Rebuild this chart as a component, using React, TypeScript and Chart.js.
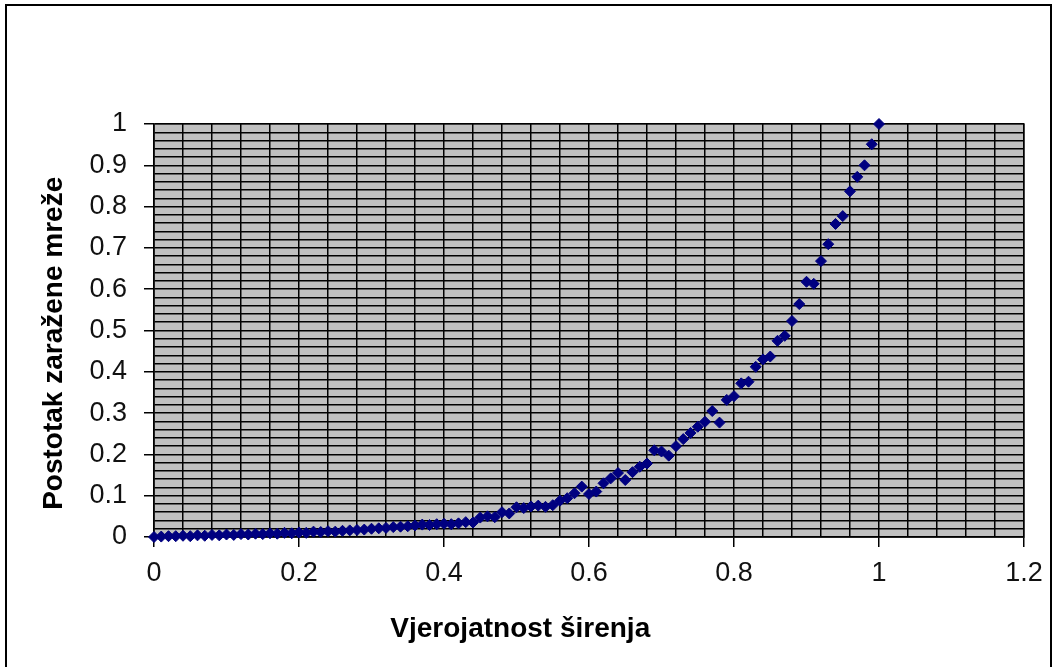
import React, { useEffect, useRef } from "react";
import { Chart, registerables } from "chart.js";

Chart.register(...registerables);

const xValues = [
  0, 0.01, 0.02, 0.03, 0.04, 0.05, 0.06, 0.07, 0.08, 0.09,
  0.1, 0.11, 0.12, 0.13, 0.14, 0.15, 0.16, 0.17, 0.18, 0.19,
  0.2, 0.21, 0.22, 0.23, 0.24, 0.25, 0.26, 0.27, 0.28, 0.29,
  0.3, 0.31, 0.32, 0.33, 0.34, 0.35, 0.36, 0.37, 0.38, 0.39,
  0.4, 0.41, 0.42, 0.43, 0.44, 0.45, 0.46, 0.47, 0.48, 0.49,
  0.5, 0.51, 0.52, 0.53, 0.54, 0.55, 0.56, 0.57, 0.58, 0.59,
  0.6, 0.61, 0.62, 0.63, 0.64, 0.65, 0.66, 0.67, 0.68, 0.69,
  0.7, 0.71, 0.72, 0.73, 0.74, 0.75, 0.76, 0.77, 0.78, 0.79,
  0.8, 0.81, 0.82, 0.83, 0.84, 0.85, 0.86, 0.87, 0.88, 0.89,
  0.9, 0.91, 0.92, 0.93, 0.94, 0.95, 0.96, 0.97, 0.98, 0.99,
  1,
];

const yValues = [
  0, 0.001, 0.002, 0.002, 0.003, 0.002, 0.004, 0.003, 0.005, 0.004,
  0.006, 0.005, 0.007, 0.006, 0.008, 0.007, 0.009, 0.008, 0.01, 0.009,
  0.011, 0.01, 0.013, 0.012, 0.014, 0.013, 0.015, 0.016, 0.017, 0.018,
  0.02, 0.021, 0.022, 0.024, 0.025, 0.026, 0.028, 0.03, 0.029, 0.031,
  0.032, 0.031, 0.033, 0.036, 0.035, 0.047, 0.05, 0.048, 0.06, 0.057,
  0.072, 0.07, 0.074, 0.076, 0.073, 0.077, 0.088, 0.094, 0.106, 0.122,
  0.104, 0.11, 0.13, 0.142, 0.155, 0.138, 0.157, 0.17, 0.178, 0.21,
  0.207, 0.197, 0.22, 0.237, 0.252, 0.267, 0.279, 0.305, 0.277, 0.332,
  0.341, 0.372, 0.376, 0.412, 0.43, 0.437, 0.475, 0.487, 0.523, 0.564,
  0.618, 0.613, 0.668, 0.709, 0.758, 0.777, 0.837, 0.872, 0.9, 0.951,
  1,
];

const xTitle = "Vjerojatnost širenja";
const yTitle = "Postotak zaražene mreže";

const FONT = "'Liberation Sans', Arial, sans-serif";

const isMult = (v: number, step: number) =>
  Math.abs(v / step - Math.round(v / step)) < 1e-6;

const decorPlugin = {
  id: "decor",
  beforeDraw(chart: any) {
    const { ctx, chartArea } = chart;
    ctx.save();
    ctx.fillStyle = "#ffffff";
    ctx.fillRect(0, 0, chart.width, chart.height);
    ctx.strokeStyle = "#000000";
    ctx.lineWidth = 2;
    ctx.strokeRect(6, 5, 1045, 672);
    ctx.fillStyle = "#c0c0c0";
    ctx.fillRect(
      chartArea.left,
      chartArea.top,
      chartArea.right - chartArea.left,
      chartArea.bottom - chartArea.top
    );
    ctx.strokeStyle = "#808080";
    ctx.lineWidth = 2;
    ctx.strokeRect(
      chartArea.left,
      chartArea.top,
      chartArea.right - chartArea.left,
      chartArea.bottom - chartArea.top
    );
    ctx.restore();
  },
  afterDraw(chart: any) {
    const { ctx, chartArea } = chart;
    const w = chartArea.right - chartArea.left;
    const h = chartArea.bottom - chartArea.top;
    ctx.save();
    ctx.fillStyle = "#000";
    ctx.font = `bold 28px ${FONT}`;
    ctx.textAlign = "center";
    ctx.textBaseline = "alphabetic";
    ctx.fillText(xTitle, chartArea.left + w * 0.421, chartArea.bottom + 100);
    ctx.translate(62, chartArea.top + h * 0.531);
    ctx.rotate(-Math.PI / 2);
    ctx.fillText(yTitle, 0, 0);
    ctx.restore();
  },
};

export default function App() {
  const ref = useRef<HTMLCanvasElement | null>(null);

  useEffect(() => {
    document.body.style.margin = "0";
    if (!ref.current) return;
    const points = xValues.map((x, i) => ({ x, y: yValues[i] }));
    const chart = new Chart(ref.current, {
      type: "scatter",
      data: {
        datasets: [
          {
            data: points,
            pointStyle: "rectRot",
            pointRadius: 5.5,
            pointBackgroundColor: "#000080",
            pointBorderColor: "#000080",
            pointBorderWidth: 1,
            showLine: false,
            clip: false,
          } as any,
        ],
      },
      options: {
        responsive: false,
        animation: false,
        layout: { padding: { left: 0, top: 124, right: 34, bottom: 0 } },
        plugins: { legend: { display: false }, tooltip: { enabled: false } },
        scales: {
          x: {
            type: "linear",
            min: 0,
            max: 1.2,
            afterFit: (s: any) => {
              s.height = 130;
            },
            border: { color: "#000", width: 1.5 },
            grid: {
              color: "#000",
              lineWidth: 1.5,
              tickLength: 10,
              tickColor: (c: any) =>
                c.tick && isMult(c.tick.value, 0.2) ? "#000" : "rgba(0,0,0,0)",
            },
            ticks: {
              stepSize: 0.04,
              autoSkip: false,
              maxRotation: 0,
              padding: 10,
              color: "#111",
              font: { family: FONT, size: 27 },
              callback: (v: any) =>
                isMult(Number(v), 0.2) ? String(Math.round(Number(v) * 5) / 5) : "",
            },
          },
          y: {
            type: "linear",
            min: 0,
            max: 1,
            afterFit: (s: any) => {
              s.width = 154;
            },
            border: { color: "#000", width: 1.5 },
            grid: {
              color: "#000",
              lineWidth: 1.5,
              tickLength: 10,
              tickColor: (c: any) =>
                c.tick && isMult(c.tick.value, 0.1) ? "#000" : "rgba(0,0,0,0)",
            },
            ticks: {
              stepSize: 0.02,
              autoSkip: false,
              padding: 17,
              color: "#111",
              font: { family: FONT, size: 27 },
              callback: (v: any) =>
                isMult(Number(v), 0.1) ? String(Math.round(Number(v) * 10) / 10) : "",
            },
          },
        },
      },
      plugins: [decorPlugin],
    });
    return () => chart.destroy();
  }, []);

  return (
    <div style={{ width: 1058, height: 667 }}>
      <canvas ref={ref} width={1058} height={667} style={{ display: "block" }} />
    </div>
  );
}
